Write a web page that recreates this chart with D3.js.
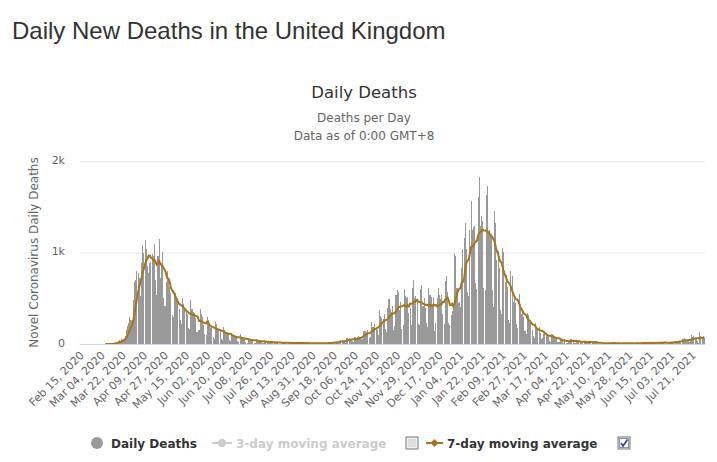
<!DOCTYPE html>
<html><head><meta charset="utf-8">
<script src="https://cdn.jsdelivr.net/npm/d3@7/dist/d3.min.js"></script>
<style>body{margin:0;background:#fff}svg{display:block}</style>
</head><body>
<svg id="chart" width="717" height="462"></svg>
<script>
// ---------- DATA (daily new deaths, United Kingdom) ----------
const startDate = new Date(2020, 1, 15); // Feb 15, 2020
const deathsFeb2020 = [null,null,null,null,null,null,null,null,null,null,null,null,null,null,null];
const deathsMar2020 = [0,0,0,0,1,1,0,1,1,2,2,2,1,11,14,20,16,33,40,33,56,48,54,90,150,200,230,290,260,230,480];
const deathsApr2020 = [680,700,800,780,720,520,880,1080,1000,1140,1040,850,780,880,900,980,960,1090,700,540,960,1150,720,880,1010,500,420,680,800,720];
const deathsMay2020 = [620,560,320,290,540,560,480,500,380,260,220,500,440,390,350,330,170,160,480,380,350,340,280,130,130,150,380,330,290,210,110];
const deathsJun2020 = [100,300,260,200,180,170,80,60,240,220,170,150,140,50,40,190,150,130,120,110,40,30,120,100,90,80,70,30,20,110];
const deathsJul2020 = [80,70,60,50,20,15,70,60,50,45,40,12,10,50,40,35,30,28,10,8,40,30,25,22,20,8,6,30,25,20,18];
const deathsAug2020 = [15,5,4,20,18,16,14,12,4,3,18,16,15,13,11,4,3,16,14,12,11,10,3,2,15,14,12,10,9,2,1];
const deathsSep2020 = [12,10,9,8,8,2,3,14,12,11,10,9,5,8,20,18,18,20,25,15,12,35,37,40,38,35,20,15,70,70];
const deathsOct2020 = [66,59,49,33,19,76,70,77,87,81,65,50,143,137,138,136,150,67,80,241,191,189,224,174,151,102,367,310,280,274,326];
const deathsNov2020 = [162,136,397,492,378,355,413,156,194,532,595,563,376,462,168,213,598,529,501,511,341,398,206,608,696,498,521,479,215,205];
const deathsDec2020 = [603,648,414,504,397,231,189,616,533,516,424,519,144,232,506,612,532,489,534,326,215,691,744,570,230,210,316,357,414,981,964];
const deathsJan2021 = [613,445,454,407,830,1041,1162,1325,1035,563,529,1243,1564,1248,1280,1295,671,599,1610,1820,1290,1401,1348,610,592,1631,1725,1239,1245,1200,587];
const deathsFeb2021 = [406,1449,1322,915,1014,828,373,333,1052,1001,678,758,621,258,230,799,738,454,533,445,215,178,548,442,323,345,290,144];
const deathsMar2021 = [104,343,315,242,236,158,82,65,231,190,175,181,121,52,64,110,141,95,101,96,33,17,112,98,70,63,58,19,23,56,43];
const deathsApr2021 = [51,10,58,10,9,20,45,53,60,40,7,13,23,33,34,36,32,10,4,33,22,18,29,32,17,1,17,29,22,15];
const deathsMay2021 = [15,1,1,4,13,12,12,8,2,4,11,15,11,17,7,4,1,7,9,9,10,12,6,0,14,9,10,10,7,6,0];
const deathsJun2021 = [3,12,18,11,13,4,6,13,7,17,17,12,8,3,9,19,19,11,14,10,5,27,19,14,18,11,14,4,18,23];
const deathsJul2021 = [14,18,18,15,9,37,33,26,34,35,6,50,50,63,49,41,41,19,39,96,73,84,63,64,28,14,131,91,68,89,65];

const yTicks = [0, 1000, 2000];
const tickEvery = 18;
const maWindow = 7;

const dailyDeaths = [].concat(deathsFeb2020, deathsMar2020, deathsApr2020, deathsMay2020, deathsJun2020,
  deathsJul2020, deathsAug2020, deathsSep2020, deathsOct2020, deathsNov2020, deathsDec2020,
  deathsJan2021, deathsFeb2021, deathsMar2021, deathsApr2021, deathsMay2021, deathsJun2021, deathsJul2021);

const fmt = d3.timeFormat("%b %d, %Y");
const categories = dailyDeaths.map((_, i) => fmt(d3.timeDay.offset(startDate, i)));

// 7-day moving average, as the original chart shows it
const movingAvg = dailyDeaths.map((v, i) => {
  if (i < maWindow - 1) return null;
  const w = dailyDeaths.slice(i - maWindow + 1, i + 1);
  if (w.some(d => d === null)) return null;
  return d3.mean(w);
});

// ---------- LAYOUT ----------
const svg = d3.select("#chart");
const plot = {left: 80, right: 705, top: 161, bottom: 344};
const FONT = "'DejaVu Sans', Verdana, sans-serif";

svg.append("rect").attr("width", 717).attr("height", 462).attr("fill", "#fff");

svg.append("text").attr("x", 12).attr("y", 39)
  .attr("font-family", "'Liberation Sans', Arial, sans-serif").attr("font-size", 24)
  .attr("fill", "#333").text("Daily New Deaths in the United Kingdom");

svg.append("text").attr("x", 364).attr("y", 98).attr("text-anchor", "middle")
  .attr("font-family", FONT).attr("font-size", 16.5).attr("fill", "#333").text("Daily Deaths");
svg.append("text").attr("x", 364).attr("y", 122).attr("text-anchor", "middle")
  .attr("font-family", FONT).attr("font-size", 12).attr("fill", "#666").text("Deaths per Day");
svg.append("text").attr("x", 364).attr("y", 140).attr("text-anchor", "middle")
  .attr("font-family", FONT).attr("font-size", 12).attr("fill", "#666").text("Data as of 0:00 GMT+8");

const x = d3.scaleBand().domain(categories).range([plot.left, plot.right]).paddingInner(0.1).paddingOuter(0.05);
const y = d3.scaleLinear().domain([0, 2000]).range([plot.bottom, plot.top]);

// gridlines
svg.append("g").selectAll("line").data(yTicks.filter(d => d > 0)).join("line")
  .attr("x1", plot.left).attr("x2", plot.right)
  .attr("y1", d => y(d) + 0.5).attr("y2", d => y(d) + 0.5)
  .attr("stroke", "#e6e6e6").attr("stroke-width", 1);

// bars
svg.append("g").attr("shape-rendering", "crispEdges")
  .selectAll("rect").data(dailyDeaths.map((v, i) => ({v, c: categories[i]})).filter(d => d.v))
  .join("rect")
  .attr("x", d => x(d.c)).attr("width", x.bandwidth())
  .attr("y", d => y(d.v)).attr("height", d => y(0) - y(d.v))
  .attr("fill", "#999999");

// moving average line
const line = d3.line()
  .defined(d => d.v !== null)
  .x(d => x(d.c) + x.bandwidth() / 2)
  .y(d => y(d.v))
  .curve(d3.curveLinear);
svg.append("path").datum(movingAvg.map((v, i) => ({v, c: categories[i]})))
  .attr("d", line).attr("fill", "none").attr("stroke", "#a8741c").attr("stroke-width", 2)
  .attr("stroke-linejoin", "round");

// x axis
const xAxis = d3.axisBottom(x).tickValues(categories.filter((d, i) => i % tickEvery === 0)).tickSize(0).tickPadding(0);
const gx = svg.append("g").attr("transform", `translate(0,${plot.bottom})`).call(xAxis);
gx.select(".domain").attr("stroke", "#ccd6eb").attr("d", `M${plot.left},0.5H${plot.right}`);
gx.selectAll("text")
  .attr("font-family", FONT).attr("font-size", 11).attr("fill", "#666")
  .attr("text-anchor", "end").attr("dy", null).attr("y", 0)
  .attr("transform", "translate(4,12) rotate(-45)");

// y axis
const yAxis = d3.axisLeft(y).tickValues(yTicks).tickSize(0).tickPadding(15)
  .tickFormat(d => d === 0 ? "0" : (d / 1000) + "k");
const gy = svg.append("g").attr("transform", `translate(${plot.left},0)`).call(yAxis);
gy.select(".domain").remove();
gy.selectAll("text").attr("font-family", FONT).attr("font-size", 11).attr("fill", "#666").attr("dy", "0.2em");

svg.append("text").attr("transform", `translate(38,${(plot.top + plot.bottom) / 2}) rotate(-90)`)
  .attr("text-anchor", "middle").attr("font-family", FONT).attr("font-size", 12).attr("fill", "#666")
  .text("Novel Coronavirus Daily Deaths");

// ---------- LEGEND ----------
const lg = svg.append("g").attr("font-family", FONT).attr("font-size", 12).attr("font-weight", "bold");
const ly = 443;
lg.append("circle").attr("cx", 97).attr("cy", ly).attr("r", 6).attr("fill", "#999");
lg.append("text").attr("x", 111).attr("y", ly + 4.5).attr("fill", "#333").text("Daily Deaths");

lg.append("line").attr("x1", 212).attr("x2", 232).attr("y1", ly).attr("y2", ly).attr("stroke", "#ccc").attr("stroke-width", 2);
lg.append("circle").attr("cx", 222).attr("cy", ly).attr("r", 4).attr("fill", "#ccc");
lg.append("text").attr("x", 236).attr("y", ly + 4.5).attr("fill", "#ccc").text("3-day moving average");

function checkbox(cx, checked) {
  const g = lg.append("g").attr("transform", `translate(${cx - 6},${ly - 6})`);
  g.append("rect").attr("width", 12).attr("height", 12).attr("fill", "#f0f0f0").attr("stroke", "#777").attr("stroke-width", 1);
  g.append("rect").attr("x", 2).attr("y", 2).attr("width", 8).attr("height", 8).attr("fill", "#ddd");
  if (checked) {
    g.append("rect").attr("x", 1.5).attr("y", 1.5).attr("width", 9).attr("height", 9).attr("fill", "#fff")
      .attr("stroke", "#333").attr("stroke-dasharray", "1,1").attr("stroke-width", 1);
    g.append("path").attr("d", "M3,6 L5,9 L9.5,2.5").attr("fill", "none").attr("stroke", "#2a3fa8").attr("stroke-width", 1.6);
  }
}
checkbox(412, false);

lg.append("line").attr("x1", 426).attr("x2", 443).attr("y1", ly).attr("y2", ly).attr("stroke", "#a8741c").attr("stroke-width", 2);
lg.append("path").attr("d", d3.symbol(d3.symbolDiamond2, 40)()).attr("transform", `translate(434.5,${ly})`).attr("fill", "#a8741c");
lg.append("text").attr("x", 447).attr("y", ly + 4.5).attr("fill", "#333").text("7-day moving average");
checkbox(624, true);
</script>
</body></html>
